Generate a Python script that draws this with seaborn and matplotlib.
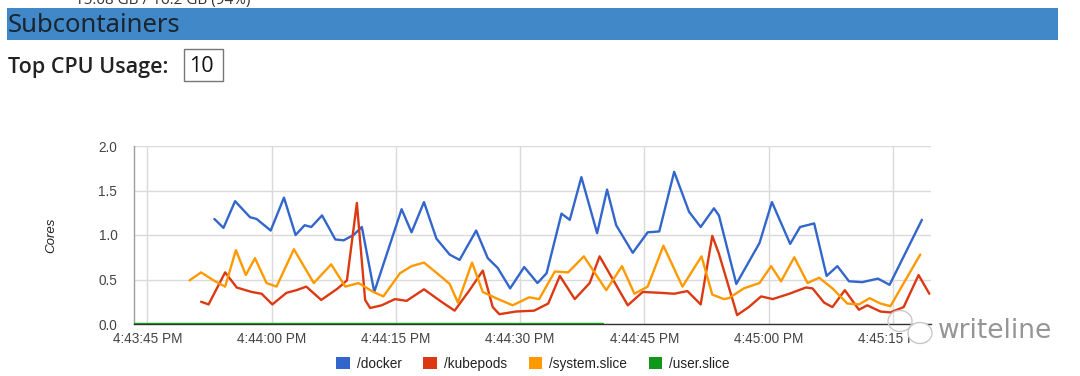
import matplotlib
matplotlib.use("Agg")
import matplotlib.pyplot as plt
from matplotlib.patches import Rectangle, Patch, Ellipse
import seaborn as sns
import pandas as pd

# ---------------- data (seconds after 4:43:45 PM, cores) ----------------
docker_t = [8.1, 9.2, 10.6, 12.4, 13.2, 14.9, 16.5, 17.9, 19.0, 19.8, 21.1, 22.7, 23.7, 24.9,
            25.9, 27.4, 30.7, 31.9, 33.4, 34.9, 36.5, 37.7, 39.7, 41.1, 42.3, 43.8, 45.5, 47.1,
            48.2, 50.0, 51.0, 52.4, 54.3, 55.5, 56.6, 58.6, 60.4, 61.8, 63.6, 65.4, 66.8, 68.4,
            69.0, 71.1, 73.9, 75.4, 77.6, 78.8, 80.5, 82.0, 83.3, 84.7, 86.3, 88.2, 89.6, 93.5]
docker_v = [1.18, 1.08, 1.38, 1.20, 1.18, 1.05, 1.42, 1.00, 1.11, 1.09, 1.22, 0.95, 0.94, 1.00,
            1.09, 0.36, 1.29, 1.03, 1.37, 0.96, 0.78, 0.72, 1.05, 0.74, 0.63, 0.40, 0.64, 0.46,
            0.57, 1.24, 1.17, 1.65, 1.02, 1.51, 1.11, 0.80, 1.03, 1.04, 1.71, 1.26, 1.09, 1.30,
            1.22, 0.45, 0.91, 1.37, 0.90, 1.09, 1.13, 0.54, 0.65, 0.48, 0.47, 0.51, 0.44, 1.17]

kube_t = [6.5, 7.4, 9.4, 10.8, 12.6, 13.8, 15.1, 16.8, 18.0, 19.2, 21.0, 23.0, 24.1, 25.3,
          26.3, 26.9, 28.3, 29.9, 31.3, 33.4, 35.5, 37.1, 38.9, 40.5, 41.7, 42.5, 44.5, 46.7,
          48.4, 49.8, 51.6, 53.4, 54.6, 58.0, 59.8, 62.0, 63.6, 65.2, 66.8, 68.2, 69.0, 71.2,
          72.6, 74.1, 75.5, 77.5, 79.5, 80.3, 81.7, 82.7, 84.2, 85.9, 86.9, 88.5, 89.7, 91.3,
          93.1, 94.4]
kube_v = [0.25, 0.22, 0.58, 0.41, 0.36, 0.34, 0.22, 0.35, 0.38, 0.42, 0.27, 0.40, 0.49, 1.36,
          0.27, 0.18, 0.21, 0.28, 0.26, 0.39, 0.25, 0.15, 0.38, 0.60, 0.19, 0.11, 0.14, 0.15,
          0.23, 0.54, 0.28, 0.46, 0.76, 0.21, 0.36, 0.35, 0.34, 0.37, 0.22, 0.99, 0.79, 0.10,
          0.19, 0.31, 0.28, 0.34, 0.41, 0.40, 0.24, 0.19, 0.38, 0.16, 0.21, 0.14, 0.13, 0.19,
          0.55, 0.34]

system_t = [5.1, 6.5, 8.0, 9.4, 10.7, 11.9, 13.0, 14.4, 15.6, 17.7, 20.1, 20.8, 22.2, 23.9,
            25.5, 27.3, 28.5, 30.5, 31.9, 33.4, 35.5, 36.5, 37.5, 39.2, 40.5, 42.1, 44.1, 46.1,
            47.3, 49.2, 50.8, 52.7, 55.4, 57.3, 58.8, 60.4, 62.3, 64.6, 66.9, 68.2, 69.6, 70.2,
            72.0, 73.9, 75.3, 76.5, 78.1, 79.7, 81.1, 82.7, 84.5, 85.9, 87.2, 88.5, 89.7, 93.3]
system_v = [0.49, 0.58, 0.49, 0.42, 0.83, 0.55, 0.74, 0.46, 0.42, 0.84, 0.46, 0.53, 0.67, 0.42,
            0.46, 0.36, 0.31, 0.57, 0.65, 0.69, 0.53, 0.45, 0.24, 0.69, 0.36, 0.29, 0.21, 0.30,
            0.28, 0.59, 0.58, 0.76, 0.38, 0.65, 0.34, 0.42, 0.88, 0.42, 0.76, 0.33, 0.28, 0.29,
            0.40, 0.46, 0.65, 0.48, 0.75, 0.46, 0.52, 0.40, 0.23, 0.22, 0.29, 0.23, 0.20, 0.78]

user_t = [-1.6, 10.0, 20.0, 30.0, 40.0, 50.0, 55.0]
user_v = [0.0, 0.0, 0.0, 0.0, 0.0, 0.0, 0.0]

series_names = ["/docker", "/kubepods", "/system.slice", "/user.slice"]
series_colors = ["#3366cc", "#dc3912", "#ff9900", "#109618"]
tick_seconds = [0, 15, 30, 45, 60, 75, 90]
tick_labels = ["4:43:45 PM", "4:44:00 PM", "4:44:15 PM", "4:44:30 PM",
               "4:44:45 PM", "4:45:00 PM", "4:45:15 PM"]
y_ticks = [0.0, 0.5, 1.0, 1.5, 2.0]

# ---------------- build frame ----------------
frames = []
for name, t, v in zip(series_names,
                      [docker_t, kube_t, system_t, user_t],
                      [docker_v, kube_v, system_v, user_v]):
    frames.append(pd.DataFrame({"t": t, "cores": v, "series": name}))
df = pd.concat(frames, ignore_index=True)

sns.set_theme(style="white")
plt.rcParams["font.family"] = ["Liberation Sans", "DejaVu Sans"]

W, H = 1080, 376
fig = plt.figure(figsize=(W / 100, H / 100), dpi=100)
fig.patch.set_facecolor("white")

def fx(px):
    return px / W

def fy(py):
    return 1 - py / H

# ---------------- header ----------------
fig.text(fx(75), fy(4), "15.08 GB / 16.2 GB (94%)", fontsize=11, color="#333333",
         va="baseline", ha="left", family=["Open Sans", "DejaVu Sans"])
fig.patches.append(Rectangle((fx(7), fy(40)), fx(1058) - fx(7), fy(8) - fy(40),
                             transform=fig.transFigure, facecolor="#4088c8",
                             edgecolor="none", zorder=0))
fig.text(fx(8), fy(26), "Subcontainers", fontsize=18.5, color="#1a2530",
         va="center", ha="left", weight="medium", family=["Noto Sans", "DejaVu Sans"])
fig.text(fx(8), fy(67), "Top CPU Usage:", fontsize=15.5, color="#222222",
         va="center", ha="left", weight="semibold", family=["Open Sans", "DejaVu Sans"])
fig.patches.append(Rectangle((fx(184), fy(81)), fx(223) - fx(184), fy(49) - fy(81),
                             transform=fig.transFigure, facecolor="white",
                             edgecolor="#767676", linewidth=1.0, zorder=1))
fig.text(fx(189), fy(66), "10", fontsize=15.5, color="#111111",
         va="center", ha="left", family=["Open Sans", "DejaVu Sans"])

# ---------------- chart ----------------
ax = fig.add_axes([fx(134), fy(324), fx(931) - fx(134), fy(146) - fy(324)])
sns.lineplot(data=df, x="t", y="cores", hue="series", hue_order=series_names,
             palette=series_colors, sort=False, estimator=None, legend=False,
             linewidth=1.7, ax=ax, zorder=3)
for line in ax.get_lines():
    line.set_solid_joinstyle("round")
    line.set_solid_capstyle("round")

ax.set_xlim(-1.6, 94.6)
ax.set_ylim(0, 2.0)
ax.set_xticks(tick_seconds)
ax.set_xticklabels(tick_labels)
ax.set_yticks(y_ticks)
ax.set_yticklabels([f"{v:.1f}" for v in y_ticks])
ax.grid(True, color="#dadada", linewidth=1.0)
ax.set_axisbelow(True)
for s in ["top", "right"]:
    ax.spines[s].set_visible(False)
ax.spines["left"].set_color("#9e9e9e")
ax.spines["left"].set_linewidth(1.0)
ax.spines["bottom"].set_color("#333333")
ax.spines["bottom"].set_linewidth(1.0)
ax.tick_params(axis="both", length=0, labelsize=9.8, colors="#444444")
ax.tick_params(axis="x", pad=6)
ax.tick_params(axis="y", pad=12)
ax.set_xlabel("")
ax.set_ylabel("Cores", fontsize=9.5, style="italic", color="#222222", labelpad=30)

# legend
handles = [Patch(facecolor=c, edgecolor="none", label=n)
           for n, c in zip(series_names, series_colors)]
fig.legend(handles=handles, loc="center", bbox_to_anchor=(fx(533), fy(364)),
           ncol=4, frameon=False, fontsize=9.8, handlelength=1.0, handleheight=1.0,
           columnspacing=1.6, handletextpad=0.5, labelcolor="#222222")

# watermark
fig.patches.append(Ellipse((fx(900), fy(321)), fx(24), 21 / H, transform=fig.transFigure,
                           facecolor="none", edgecolor="#c8c8c8", linewidth=1.0, zorder=5))
fig.patches.append(Ellipse((fx(920), fy(333)), fx(24), 21 / H, transform=fig.transFigure,
                           facecolor="white", edgecolor="#c8c8c8", linewidth=1.0, zorder=6))
fig.text(fx(938), fy(331), "writeline", fontsize=19, color="#8a8a8a", alpha=0.9,
         va="center", ha="left", family=["DejaVu Sans"], zorder=7)

fig.savefig("out.png", dpi=100, facecolor="white")
